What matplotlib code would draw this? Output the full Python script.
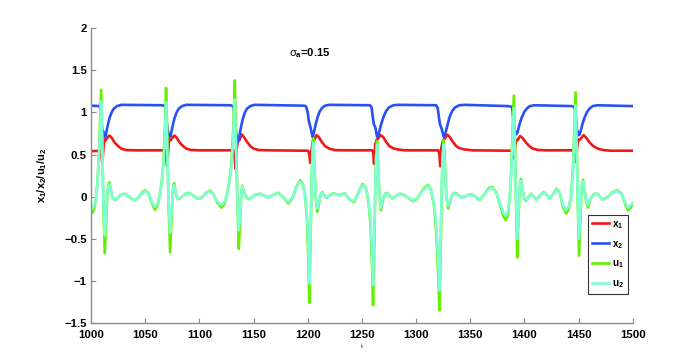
import matplotlib
matplotlib.use('Agg')
import matplotlib.pyplot as plt
import numpy as np

plt.rcParams['font.family'] = ['Liberation Sans', 'DejaVu Sans']
plt.rcParams['mathtext.fontset'] = 'custom'
plt.rcParams['mathtext.rm'] = 'Liberation Sans:bold'
plt.rcParams['mathtext.bf'] = 'Liberation Sans:bold'
plt.rcParams['mathtext.it'] = 'Liberation Sans'
plt.rcParams['mathtext.default'] = 'bf'

# x1 (red) knots
t_x1 = [1000, 1008.5, 1009.5, 1010.5, 1011.3, 1012.3, 1013.5, 1015, 1017, 1019, 1022, 1025, 1028, 1032, 1040,
        1068.5, 1069.3, 1070.2, 1071, 1072, 1073.5, 1075, 1077, 1079, 1082, 1085, 1088, 1092, 1100,
        1131.8, 1132.7, 1133.4, 1134.3, 1135.5, 1137, 1139, 1141, 1144, 1147, 1150, 1155, 1165,
        1200.5, 1201.5, 1202.3, 1203.5, 1205, 1206, 1208, 1210, 1213, 1216, 1220, 1225, 1235,
        1259.5, 1260.5, 1261.2, 1262.3, 1263.5, 1265, 1267.2, 1269.5, 1272.4, 1275.5, 1278.6, 1283, 1290,
        1320.5, 1321.5, 1322.3, 1323.3, 1325, 1326.5, 1328.7, 1331, 1334, 1337, 1340, 1345, 1352,
        1389, 1390, 1390.8, 1391.5, 1392.4, 1393.5, 1396, 1398, 1401.6, 1404.5, 1407.7, 1412, 1420,
        1446, 1446.8, 1447.7, 1448.7, 1450, 1451.5, 1454.5, 1457, 1460, 1463.5, 1467.7, 1472, 1480, 1500]
x1 = [0.54, 0.545, 0.5, 0.39, 0.55, 0.68, 0.67, 0.70, 0.725, 0.70, 0.64, 0.60, 0.57, 0.555, 0.55,
      0.55, 0.50, 0.37, 0.50, 0.68, 0.67, 0.70, 0.725, 0.70, 0.64, 0.60, 0.57, 0.555, 0.55,
      0.55, 0.45, 0.33, 0.55, 0.66, 0.67, 0.74, 0.71, 0.65, 0.60, 0.57, 0.553, 0.55,
      0.545, 0.50, 0.40, 0.55, 0.68, 0.67, 0.73, 0.71, 0.65, 0.60, 0.57, 0.553, 0.55,
      0.55, 0.52, 0.39, 0.62, 0.67, 0.69, 0.73, 0.71, 0.65, 0.60, 0.575, 0.56, 0.55,
      0.55, 0.50, 0.36, 0.58, 0.67, 0.69, 0.735, 0.71, 0.65, 0.60, 0.575, 0.56, 0.55,
      0.545, 0.50, 0.45, 0.60, 0.67, 0.67, 0.72, 0.70, 0.64, 0.60, 0.57, 0.555, 0.55,
      0.55, 0.52, 0.41, 0.60, 0.68, 0.68, 0.73, 0.70, 0.645, 0.60, 0.57, 0.555, 0.545, 0.545]

# x2 (blue) knots
t_x2 = [1000, 1008.3, 1009.3, 1010.3, 1011.2, 1012.5, 1013.5, 1015, 1017, 1019, 1021, 1024, 1028, 1066, 1068.5,
        1069.5, 1070.5, 1072.5, 1073.5, 1075, 1077, 1079, 1081, 1084, 1088, 1129, 1131.5,
        1133, 1134, 1135.5, 1136.5, 1138, 1140, 1142, 1144, 1147, 1151, 1197,
        1198.5, 1200, 1201, 1202, 1203, 1204.4, 1205.5, 1207, 1209, 1211, 1213, 1216, 1220,
        1257.5, 1259, 1260, 1261, 1262.5, 1264, 1265.5, 1267.5, 1270, 1272.5, 1275, 1279, 1283,
        1318.5, 1320, 1321, 1322, 1323.5, 1325.5, 1327, 1329, 1331, 1333.5, 1336, 1340, 1345, 1385, 1388.7,
        1389.5, 1390.5, 1392.5, 1393.5, 1395.5, 1397.5, 1400, 1402.5, 1405, 1409, 1444, 1446.5,
        1447.3, 1448.3, 1450.3, 1451.3, 1453.5, 1455.5, 1458, 1460.5, 1463, 1467, 1500]
x2 = [1.08, 1.075, 0.95, 0.80, 0.78, 0.71, 0.72, 0.82, 0.93, 1.00, 1.045, 1.075, 1.09, 1.085, 1.075,
      0.95, 0.80, 0.71, 0.72, 0.82, 0.93, 1.00, 1.045, 1.075, 1.09, 1.085, 1.07,
      0.90, 0.75, 0.65, 0.68, 0.80, 0.92, 1.00, 1.045, 1.075, 1.09, 1.08,
      1.07, 1.00, 0.90, 0.85, 0.80, 0.71, 0.75, 0.84, 0.94, 1.01, 1.05, 1.08, 1.09,
      1.085, 1.06, 0.95, 0.86, 0.82, 0.71, 0.74, 0.85, 0.95, 1.02, 1.06, 1.085, 1.09,
      1.085, 1.05, 0.95, 0.86, 0.81, 0.71, 0.75, 0.85, 0.95, 1.02, 1.06, 1.085, 1.09, 1.075, 1.065,
      0.95, 0.80, 0.74, 0.76, 0.86, 0.94, 1.01, 1.05, 1.075, 1.085, 1.075, 1.06,
      0.95, 0.80, 0.73, 0.75, 0.86, 0.94, 1.01, 1.05, 1.075, 1.085, 1.075]

# u1 (green) and u2 (aquamarine) share one time grid
t_u = [1000, 1001.5, 1003, 1004.5, 1006, 1007.3, 1008.5, 1009.4, 1010.4, 1011.4, 1012.7, 1013.8, 1015, 1016, 1017,
       1018.3, 1019.8, 1021.7, 1024, 1027, 1031, 1035, 1038, 1040.7, 1044, 1047, 1050, 1053, 1056, 1059,
       1061.5, 1063.5, 1065.5, 1067, 1068.3, 1069.3, 1070.3, 1071.5, 1073, 1074.2, 1075.5, 1076.7, 1078,
       1079.5, 1081, 1084, 1087.5, 1091, 1094.5, 1098, 1100.5, 1104, 1107, 1110, 1113, 1116.5, 1120.5,
       1123, 1125.5, 1127.5, 1129.5, 1131.3, 1132.7, 1133.8, 1135, 1136.4, 1137.6, 1138.7, 1139.7, 1141,
       1142.8, 1145, 1148, 1152, 1156, 1160, 1164, 1168, 1172.8, 1177, 1182, 1186, 1189.5, 1193, 1195.5,
       1197.5, 1199.2, 1200.5, 1201.5, 1202.5, 1203.5, 1204.4, 1205.1, 1206, 1207.3, 1208.8, 1210.3, 1212,
       1213.6, 1215.5, 1217.5, 1220.5, 1224, 1227.5, 1230.5, 1234, 1238.5, 1242.5, 1246.5, 1250.5, 1253.5,
       1256, 1258, 1259.3, 1260.3, 1261.3, 1262.3, 1263.2, 1264, 1265, 1266.2, 1267.6, 1269.2, 1271, 1273.2,
       1275.5, 1278, 1281.5, 1285, 1289, 1293, 1297, 1300.5, 1304, 1308, 1311.5, 1314, 1316.5, 1318.5,
       1320.2, 1321.6, 1322.6, 1323.6, 1324.6, 1325.5, 1326.6, 1327.9, 1329.6, 1331.3, 1333.5, 1336.5, 1340,
       1343, 1347, 1351, 1355, 1358.5, 1362.5, 1367, 1370.5, 1374, 1377.5, 1380.5, 1382.8, 1384.8, 1386.5,
       1387.8, 1389, 1390.2, 1391.3, 1392.3, 1393.3, 1394.4, 1395.6, 1396.8, 1398.3, 1400, 1401.5, 1403.5,
       1406, 1408.5, 1411, 1414, 1417.5, 1420.5, 1423.5, 1426.5, 1429.5, 1432.5, 1435.5, 1438.5, 1441,
       1443, 1444.8, 1446, 1447.2, 1448.3, 1449.3, 1450.4, 1451.5, 1452.7, 1454, 1455.5, 1457, 1458.6,
       1461, 1464, 1467, 1472, 1477, 1481, 1486, 1490, 1493, 1495.5, 1498, 1500]
u1 = [-0.17, -0.19, -0.14, -0.02, 0.18, 0.50, 0.92, 1.27, 0.70, -0.10, -0.67, -0.35, 0.00, 0.14, 0.17,
      0.08, -0.01, -0.04, -0.02, 0.015, 0.035, 0.00, -0.03, -0.04, -0.01, 0.05, 0.075, 0.04, -0.07, -0.155,
      -0.10, 0.02, 0.20, 0.45, 0.85, 1.29, 0.75, -0.05, -0.66, -0.30, 0.07, 0.16, 0.06,
      -0.02, -0.03, 0.00, 0.035, 0.045, 0.01, -0.02, -0.025, 0.01, 0.055, 0.07, 0.03, -0.07, -0.13,
      -0.09, 0.03, 0.17, 0.38, 0.80, 1.38, 0.75, 0.00, -0.62, -0.30, 0.05, 0.13, 0.07,
      0.00, -0.03, -0.01, 0.025, 0.035, 0.01, -0.01, 0.02, 0.046, 0.00, -0.08, -0.02, 0.12, 0.195, 0.15,
      0.02, -0.25, -0.70, -1.26, -0.60, 0.10, 0.55, 0.69, 0.45, 0.00, -0.18, -0.08, 0.03,
      0.055, 0.01, -0.015, 0.02, 0.04, 0.02, 0.02, 0.04, -0.03, -0.065, 0.04, 0.15, 0.11,
      -0.05, -0.35, -0.80, -1.29, -0.70, 0.05, 0.50, 0.66, 0.40, 0.00, -0.16, -0.06, 0.03, 0.045,
      0.01, -0.02, 0.01, 0.035, 0.02, -0.02, -0.05, -0.03, 0.04, 0.11, 0.14, 0.07, -0.10, -0.40,
      -0.85, -1.35, -0.70, 0.05, 0.50, 0.67, 0.40, 0.00, -0.14, -0.05, 0.03, 0.045, 0.01,
      -0.01, 0.015, 0.03, 0.00, -0.04, 0.02, 0.10, 0.115, 0.05, -0.10, -0.23, -0.28, -0.20, 0.00,
      0.30, 0.75, 1.20, 0.60, -0.10, -0.72, -0.30, 0.10, 0.21, 0.08, -0.03, -0.05, -0.01,
      0.035, 0.00, -0.035, 0.01, 0.055, 0.02, -0.02, 0.03, 0.095, 0.05, -0.12, -0.20, -0.14,
      0.00, 0.35, 0.80, 1.24, 0.60, -0.10, -0.70, -0.30, 0.10, 0.20, 0.08, -0.06, -0.13,
      -0.03, 0.03, 0.035, -0.035, 0.00, 0.05, 0.075, 0.03, -0.09, -0.16, -0.13, -0.09]
u2 = [-0.12, -0.14, -0.10, -0.02, 0.16, 0.45, 0.82, 1.13, 0.60, -0.05, -0.46, -0.25, 0.02, 0.13, 0.15,
      0.08, -0.01, -0.035, -0.02, 0.015, 0.03, 0.00, -0.03, -0.035, -0.01, 0.045, 0.065, 0.035, -0.06, -0.12,
      -0.08, 0.02, 0.18, 0.40, 0.75, 1.12, 0.60, -0.02, -0.43, -0.20, 0.07, 0.14, 0.06,
      -0.015, -0.025, 0.00, 0.03, 0.04, 0.01, -0.02, -0.02, 0.01, 0.05, 0.06, 0.025, -0.055, -0.10,
      -0.06, 0.03, 0.15, 0.34, 0.70, 1.15, 0.55, 0.00, -0.40, -0.20, 0.05, 0.12, 0.065,
      0.00, -0.025, -0.01, 0.02, 0.03, 0.01, -0.01, 0.02, 0.04, 0.00, -0.065, -0.01, 0.11, 0.18, 0.14,
      0.03, -0.20, -0.55, -1.03, -0.45, 0.10, 0.50, 0.64, 0.40, 0.00, -0.14, -0.06, 0.03,
      0.05, 0.01, -0.01, 0.02, 0.035, 0.02, 0.02, 0.035, -0.025, -0.055, 0.035, 0.14, 0.11,
      -0.03, -0.28, -0.65, -1.05, -0.50, 0.08, 0.48, 0.62, 0.36, 0.00, -0.13, -0.04, 0.03, 0.04,
      0.01, -0.015, 0.01, 0.03, 0.02, -0.02, -0.04, -0.025, 0.035, 0.10, 0.13, 0.07, -0.08, -0.32,
      -0.70, -1.11, -0.50, 0.08, 0.48, 0.62, 0.36, 0.00, -0.11, -0.04, 0.03, 0.04, 0.01,
      -0.01, 0.015, 0.025, 0.00, -0.035, 0.02, 0.09, 0.105, 0.045, -0.08, -0.19, -0.23, -0.16, 0.00,
      0.27, 0.65, 1.05, 0.45, -0.05, -0.50, -0.20, 0.10, 0.19, 0.08, -0.025, -0.04, -0.01,
      0.03, 0.00, -0.03, 0.01, 0.05, 0.02, -0.015, 0.03, 0.085, 0.045, -0.10, -0.16, -0.11,
      0.00, 0.30, 0.70, 1.08, 0.45, -0.05, -0.50, -0.20, 0.10, 0.18, 0.08, -0.05, -0.10,
      -0.02, 0.03, 0.03, -0.03, 0.00, 0.045, 0.065, 0.025, -0.07, -0.13, -0.10, -0.07]

fig = plt.figure(figsize=(7, 3.64), dpi=100)
ax = fig.add_axes([0.13, 0.1126, 0.774, 0.81])

lw = 1.9
ax.plot(t_x1, x1, color='#ee1a1a', lw=lw, label='$x_1$')
ax.plot(t_x2, x2, color='#2850f5', lw=lw, label='$x_2$')
ax.plot(t_u, u1, color='#66ee00', lw=lw, label='$u_1$')
ax.plot(t_u, u2, color='#7fffd4', lw=lw, label='$u_2$')

ax.set_xlim(1000, 1500)
ax.set_ylim(-1.5, 2)
ax.set_xticks(np.arange(1000, 1501, 50))
ax.set_yticks(np.arange(-1.5, 2.01, 0.5))
ax.set_yticklabels(['\u22121.5', '\u22121', '\u22120.5', '0', '0.5', '1', '1.5', '2'])

for s in ['top', 'right']:
    ax.spines[s].set_visible(False)
for s in ['left', 'bottom']:
    ax.spines[s].set_color('#8c8c8c')
    ax.spines[s].set_linewidth(1.0)
ax.tick_params(direction='in', length=3.5, width=0.8, color='#8c8c8c', labelsize=8.2)
ax.tick_params(axis='x', pad=5)
ax.tick_params(axis='y', pad=3)
for lab in ax.get_xticklabels() + ax.get_yticklabels():
    lab.set_fontweight('bold')

ax.set_xlabel('t', fontsize=4.5, labelpad=3)
ax.set_ylabel('$x_1/x_2/u_1/u_2$', fontsize=8, labelpad=11)

ax.text(1202, 1.7, r'$\mathit{\sigma}_{a}$=0.15', fontsize=8, fontweight='bold', ha='center', va='center')

leg = ax.legend(loc='lower right', bbox_to_anchor=(0.991, 0.098), fontsize=7.2,
                handlelength=1.7, handletextpad=0.25, borderpad=0.4, labelspacing=0.8,
                borderaxespad=0, fancybox=False, framealpha=1)
leg.get_frame().set_edgecolor('#333333')
leg.get_frame().set_linewidth(0.8)

fig.savefig('out.png', dpi=100)
